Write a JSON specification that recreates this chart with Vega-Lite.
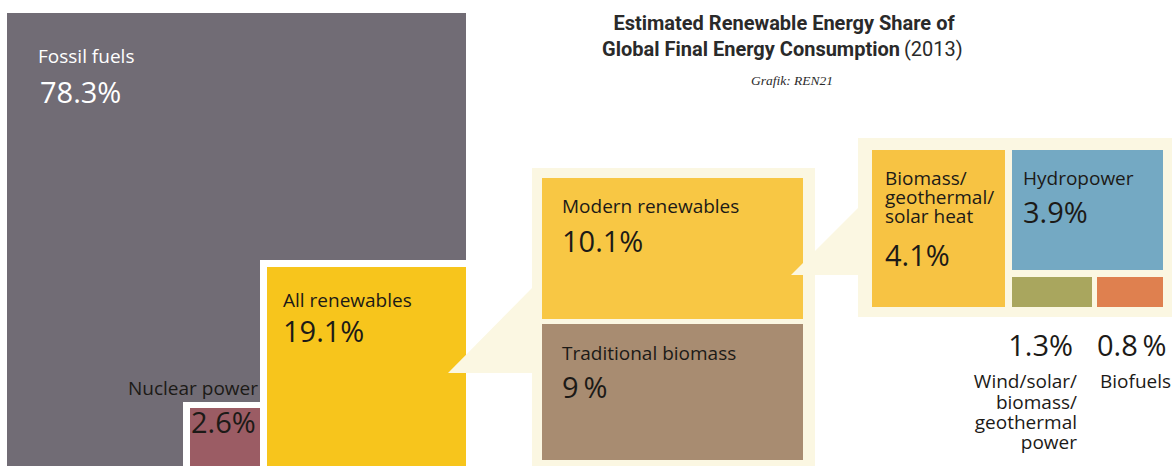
{
  "$schema": "https://vega.github.io/schema/vega-lite/v6.json",
  "width": 1172,
  "height": 466,
  "autosize": {"type": "fit", "contains": "padding"},
  "padding": 0,
  "background": "#ffffff",
  "config": {"view": {"stroke": null}},
  "datasets": {
    "boxes": [
      {"name": "panel-mid", "x": 532, "x2": 815, "y": 168, "y2": 466},
      {"name": "panel-right", "x": 858, "x2": 1172, "y": 138, "y2": 317},
      {"name": "Fossil fuels", "x": 7, "x2": 466, "y": 13, "y2": 466},
      {"name": "frame-ren", "x": 260, "x2": 466, "y": 260, "y2": 466},
      {"name": "frame-nuc", "x": 183, "x2": 260, "y": 402, "y2": 466},
      {"name": "All renewables", "x": 267, "x2": 466, "y": 267, "y2": 466},
      {"name": "Nuclear power", "x": 190, "x2": 260, "y": 408, "y2": 466},
      {"name": "Modern renewables", "x": 542, "x2": 803, "y": 178, "y2": 319},
      {"name": "Traditional biomass", "x": 542, "x2": 803, "y": 324, "y2": 460},
      {"name": "Biomass heat", "x": 872, "x2": 1005, "y": 150, "y2": 307},
      {"name": "Hydropower", "x": 1012, "x2": 1163, "y": 150, "y2": 270},
      {"name": "Wind power", "x": 1012, "x2": 1092, "y": 277, "y2": 307},
      {"name": "Biofuels", "x": 1097, "x2": 1163, "y": 277, "y2": 307}
    ],
    "wedges": [
      {"wedge": "w1", "x": 448, "y": 373, "y2": 373},
      {"wedge": "w1", "x": 533, "y": 287, "y2": 373},
      {"wedge": "w2", "x": 791, "y": 275, "y2": 275},
      {"wedge": "w2", "x": 859, "y": 207, "y2": 275}
    ],
    "labels": [
      {"t": "Fossil fuels", "x": 38, "y": 63, "kind": "name", "anchor": "start", "box": "fossil"},
      {"t": "78.3%", "x": 40, "y": 103, "kind": "pct", "anchor": "start", "box": "fossil"},
      {"t": "All renewables", "x": 283, "y": 307, "kind": "name", "anchor": "start", "box": "ren"},
      {"t": "19.1%", "x": 283, "y": 342, "kind": "pct", "anchor": "start", "box": "ren"},
      {"t": "Nuclear power", "x": 258, "y": 395, "kind": "name", "anchor": "end", "box": "nuc"},
      {"t": "2.6%", "x": 191, "y": 433, "kind": "pct", "anchor": "start", "box": "nuc"},
      {"t": "Modern renewables", "x": 562, "y": 213, "kind": "name", "anchor": "start", "box": "mod"},
      {"t": "10.1%", "x": 562, "y": 252, "kind": "pct", "anchor": "start", "box": "mod"},
      {"t": "Traditional biomass", "x": 562, "y": 360, "kind": "name", "anchor": "start", "box": "trad"},
      {"t": "9\u2009%", "x": 562, "y": 398, "kind": "pct", "anchor": "start", "box": "trad"},
      {"t": "Biomass/", "x": 885, "y": 185, "kind": "name", "anchor": "start", "box": "heat"},
      {"t": "geothermal/", "x": 885, "y": 204, "kind": "name", "anchor": "start", "box": "heat"},
      {"t": "solar heat", "x": 885, "y": 223, "kind": "name", "anchor": "start", "box": "heat"},
      {"t": "4.1%", "x": 885, "y": 266, "kind": "pct", "anchor": "start", "box": "heat"},
      {"t": "Hydropower", "x": 1023, "y": 185, "kind": "name", "anchor": "start", "box": "hydro"},
      {"t": "3.9%", "x": 1023, "y": 223, "kind": "pct", "anchor": "start", "box": "hydro"},
      {"t": "1.3%", "x": 1073, "y": 356, "kind": "pct", "anchor": "end", "box": "wind"},
      {"t": "0.8\u2009%", "x": 1097, "y": 356, "kind": "pct", "anchor": "start", "box": "bio"},
      {"t": "Wind/solar/", "x": 1077, "y": 388, "kind": "name", "anchor": "end", "box": "wind"},
      {"t": "biomass/", "x": 1077, "y": 409, "kind": "name", "anchor": "end", "box": "wind"},
      {"t": "geothermal", "x": 1077, "y": 429, "kind": "name", "anchor": "end", "box": "wind"},
      {"t": "power", "x": 1077, "y": 449, "kind": "name", "anchor": "end", "box": "wind"},
      {"t": "Biofuels", "x": 1100, "y": 388, "kind": "name", "anchor": "start", "box": "bio"}
    ],
    "titles": [
      {"t": "Estimated Renewable Energy Share of", "x": 784, "y": 30, "part": "bold-center"},
      {"t": "Global Final Energy Consumption", "x": 900, "y": 56, "part": "bold-end"},
      {"t": "(2013)", "x": 904, "y": 56, "part": "normal-start"},
      {"t": "Grafik: REN21", "x": 792, "y": 85, "part": "credit"}
    ]
  },
  "layer": [
    {
      "data": {"name": "boxes"},
      "mark": {"type": "rect"},
      "encoding": {
        "x": {"field": "x", "type": "quantitative", "scale": {"domain": [0, 1172], "nice": false, "zero": false}, "axis": null},
        "x2": {"field": "x2"},
        "y": {"field": "y", "type": "quantitative", "scale": {"domain": [0, 466], "nice": false, "zero": false, "reverse": true}, "axis": null},
        "y2": {"field": "y2"},
        "color": {
          "field": "name", "type": "nominal", "legend": null,
          "scale": {
            "domain": ["panel-mid", "panel-right", "Fossil fuels", "frame-ren", "frame-nuc", "All renewables", "Nuclear power", "Modern renewables", "Traditional biomass", "Biomass heat", "Hydropower", "Wind power", "Biofuels"],
            "range": ["#fbf7e2", "#fbf7e2", "#716c75", "#ffffff", "#ffffff", "#f7c51c", "#9b5c64", "#f8c744", "#a88c71", "#f7c343", "#74a9c3", "#a9a65e", "#df804f"]
          }
        }
      }
    },
    {
      "data": {"name": "wedges"},
      "mark": {"type": "area", "color": "#fbf7e2", "interpolate": "linear"},
      "encoding": {
        "x": {"field": "x", "type": "quantitative"},
        "y": {"field": "y", "type": "quantitative"},
        "y2": {"field": "y2"},
        "detail": {"field": "wedge", "type": "nominal"}
      }
    },
    {
      "data": {"name": "labels"},
      "transform": [{"filter": "datum.anchor === 'start'"}],
      "mark": {"type": "text", "align": "left", "baseline": "alphabetic", "font": "Open Sans"},
      "encoding": {
        "x": {"field": "x", "type": "quantitative"},
        "y": {"field": "y", "type": "quantitative"},
        "text": {"field": "t"},
        "size": {"field": "kind", "type": "ordinal", "legend": null, "scale": {"domain": ["name", "pct"], "range": [19, 29]}},
        "color": {"condition": {"test": "datum.box === 'fossil'", "value": "#ffffff"}, "value": "#1c1a17"}
      }
    },
    {
      "data": {"name": "labels"},
      "transform": [{"filter": "datum.anchor === 'end'"}],
      "mark": {"type": "text", "align": "right", "baseline": "alphabetic", "font": "Open Sans"},
      "encoding": {
        "x": {"field": "x", "type": "quantitative"},
        "y": {"field": "y", "type": "quantitative"},
        "text": {"field": "t"},
        "size": {"field": "kind", "type": "ordinal", "legend": null, "scale": {"domain": ["name", "pct"], "range": [19, 29]}},
        "color": {"value": "#1c1a17"}
      }
    },
    {
      "data": {"name": "titles"},
      "transform": [{"filter": "datum.part === 'bold-center'"}],
      "mark": {"type": "text", "align": "center", "baseline": "alphabetic", "font": "Roboto", "fontWeight": "bold", "fontSize": 20, "color": "#2a2a2a"},
      "encoding": {
        "x": {"field": "x", "type": "quantitative"},
        "y": {"field": "y", "type": "quantitative"},
        "text": {"field": "t"}
      }
    },
    {
      "data": {"name": "titles"},
      "transform": [{"filter": "datum.part === 'bold-end'"}],
      "mark": {"type": "text", "align": "right", "baseline": "alphabetic", "font": "Roboto", "fontWeight": "bold", "fontSize": 20, "color": "#2a2a2a"},
      "encoding": {
        "x": {"field": "x", "type": "quantitative"},
        "y": {"field": "y", "type": "quantitative"},
        "text": {"field": "t"}
      }
    },
    {
      "data": {"name": "titles"},
      "transform": [{"filter": "datum.part === 'normal-start'"}],
      "mark": {"type": "text", "align": "left", "baseline": "alphabetic", "font": "Roboto", "fontWeight": "normal", "fontSize": 20, "color": "#2a2a2a"},
      "encoding": {
        "x": {"field": "x", "type": "quantitative"},
        "y": {"field": "y", "type": "quantitative"},
        "text": {"field": "t"}
      }
    },
    {
      "data": {"name": "titles"},
      "transform": [{"filter": "datum.part === 'credit'"}],
      "mark": {"type": "text", "align": "center", "baseline": "alphabetic", "font": "Liberation Serif", "fontStyle": "italic", "fontSize": 13.5, "color": "#2a2a2a"},
      "encoding": {
        "x": {"field": "x", "type": "quantitative"},
        "y": {"field": "y", "type": "quantitative"},
        "text": {"field": "t"}
      }
    }
  ]
}
